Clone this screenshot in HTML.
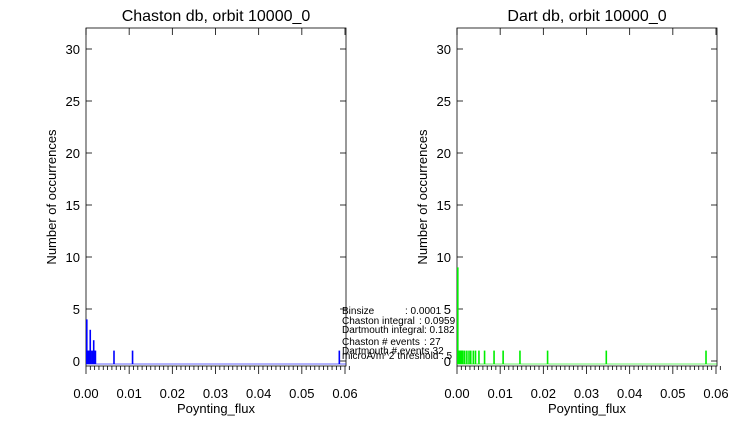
<!DOCTYPE html>
<html><head><meta charset="utf-8"><style>
body{margin:0;background:#fff;width:742px;height:417px;overflow:hidden}
svg{font-family:"Liberation Sans",sans-serif}
</style></head><body>
<svg id="c" width="742" height="417" viewBox="0 0 742 417"></svg>
<script>
const xTicks=[0,0.01,0.02,0.03,0.04,0.05,0.06];
const xTickLabels=["0.00","0.01","0.02","0.03","0.04","0.05","0.06"];
const yTicks=[0,5,10,15,20,25,30];
const chastonX=[0.0000,0.0002,0.0004,0.0006,0.0008,0.0010,0.0013,0.0016,0.0018,0.0020,0.0063,0.0106,0.0585];
const chastonY=[4,1,1,1,3,1,1,2,1,1,1,1,1];
const dartX=[0.0000,0.0002,0.0003,0.0004,0.0005,0.0006,0.0007,0.0008,0.0009,0.0010,0.0011,0.0012,0.0016,0.0021,0.0026,0.0030,0.0036,0.0041,0.0049,0.0062,0.0084,0.0105,0.0144,0.0208,0.0344,0.0575];
const dartY=[9,1,1,1,1,1,1,1,1,1,1,1,1,1,1,1,1,1,1,1,1,1,1,1,1,1];
const statsLabels=["Binsize","Chaston integral","Dartmouth integral","Chaston # events","Dartmouth # events","microA/m^2 threshold"];
const statsValues=[": 0.0001",": 0.0959",": 0.182",": 27",": 32",": 5"];
const NS="http://www.w3.org/2000/svg";
const svg=document.getElementById('c');
function el(t,a,p){const e=document.createElementNS(NS,t);for(const k in a)e.setAttribute(k,a[k]);(p||svg).appendChild(e);return e;}
function panel(x0,x1,title,xs,ys,color,pname){
  const top=28,bot=366,y0=361,ppu=10.4,base=364;
  const g=el('g',{});
  
  
  const X=v=>x0+(v/0.06)*(x1-1-x0);
  const Y=v=>y0-v*ppu;
  const box=el('rect',{x:x0,y:top,width:x1-x0,height:bot-top,fill:'none',stroke:'#000','stroke-width':0.8},g);
  
  const t=el('text',{x:(x0+x1)/2,y:21,'text-anchor':'middle','font-size':16},g);t.textContent=title;
  
  for(let i=0;i<=61;i++){const v=i*0.001;if(i%10===0)continue;el('line',{x1:X(v),x2:X(v),y1:bot,y2:bot+4,stroke:'#000','stroke-width':0.8},g);}
  xTicks.forEach((v,i)=>{
    el('line',{x1:X(v),x2:X(v),y1:bot,y2:bot+8,stroke:'#000','stroke-width':0.8},g);
    el('line',{x1:X(v),x2:X(v),y1:top,y2:top+7,stroke:'#000','stroke-width':0.8},g);
    const l=el('text',{x:X(v),y:398,'text-anchor':'middle','font-size':13},g);l.textContent=xTickLabels[i];
    
  });
  yTicks.forEach(v=>{
    el('line',{x1:x0,x2:x0+6,y1:Y(v),y2:Y(v),stroke:'#000','stroke-width':0.8},g);
    el('line',{x1:x1-6,x2:x1,y1:Y(v),y2:Y(v),stroke:'#000','stroke-width':0.8},g);
    const l=el('text',{x:x0-6,y:Y(v)+5,'text-anchor':'end','font-size':13},g);l.textContent=v;
    
  });
  const xt=el('text',{x:(x0+x1)/2,y:413,'text-anchor':'middle','font-size':13},g);xt.textContent='Poynting_flux';
  
  const yt=el('text',{x:0,y:0,'text-anchor':'middle','font-size':13,transform:`translate(${x0-30},${(top+bot)/2}) rotate(-90)`},g);yt.textContent='Number of occurrences';
  
  el('line',{x1:x0,x2:x1,y1:base,y2:base,stroke:color,'stroke-width':1,opacity:0.6},g);
  xs.forEach((v,i)=>{
    const b=el('rect',{x:X(v),y:Y(ys[i]),width:1.6,height:base-Y(ys[i]),fill:color},g);
    
    
  });
}
panel(86,346,'Chaston db, orbit 10000_0',chastonX,chastonY,'#0000ff','chaston-panel');
panel(457,717,'Dart db, orbit 10000_0',dartX,dartY,'#00ee00','dart-panel');
const sy=[314,324,333,345,354,359];
const vx=[405,419,424,424,427,441];
statsLabels.forEach((s,i)=>{
  const a=el('text',{x:342,y:sy[i],'font-size':10});a.textContent=s;
  
  const b=el('text',{x:vx[i],y:sy[i],'font-size':10});b.textContent=statsValues[i];
  
});
</script>
</body></html>
